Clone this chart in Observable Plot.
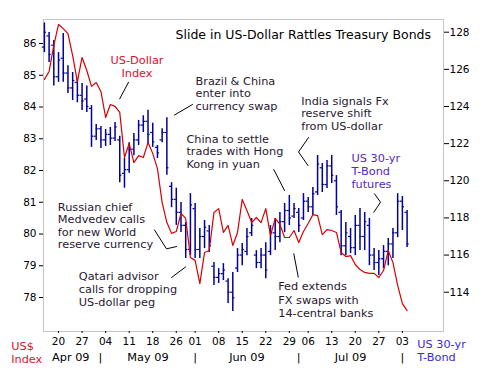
<!DOCTYPE html>
<html><head><meta charset="utf-8">
<script src="https://cdn.jsdelivr.net/npm/d3@7"></script>
<script src="https://cdn.jsdelivr.net/npm/@observablehq/plot@0.6"></script>
<style>
html,body{margin:0;padding:0;background:#fff;overflow:hidden;}
#chart svg{display:block;}
</style></head><body><div id="chart"></div>
<script>
// ---- Data (trading-day index 0 = 15 Apr 2009) ----
const bondOpen = [127.2,127.8,127.3,125.6,126.6,125.8,125.0,125.3,124.6,124.4,123.9,122.4,122.8,122.2,122.5,122.3,122.2,120.4,120.6,121.7,122.2,123.0,123.2,122.6,121.8,122.2,122.6,119.7,119.0,118.3,117.6,116.3,118.5,116.3,117.0,117.3,115.4,114.8,115.0,114.6,114.0,115.3,116.0,116.2,117.2,116.0,115.6,116.0,116.2,117.2,117.0,117.8,118.4,118.1,118.3,118.0,118.9,118.6,119.4,120.7,119.8,120.8,120.0,118.3,116.5,117.0,116.4,117.6,117.0,117.6,116.0,115.6,115.8,116.2,116.6,117.2,118.9,118.3];
const bondHigh = [128.5,127.98,127.55,126.9,127.93,126.2,125.83,125.5,125.24,125.1,124.05,123.03,122.92,122.76,122.87,123.14,122.4,121.2,122.05,122.55,123.25,123.5,123.8,123.1,121.9,122.8,123.4,119.9,119.6,118.83,117.75,119.31,118.78,117.43,117.86,117.59,115.6,115.27,115.54,114.73,115.06,116.35,116.62,117.43,117.97,116.24,116.35,116.67,117.59,117.97,118.29,118.78,119.21,118.78,118.51,119.31,119.1,119.64,121.36,120.93,121.09,121.36,120.28,118.4,117.75,117.43,118.13,118.51,118.29,117.97,116.35,116.24,116.51,116.89,117.43,119.31,119.15,118.4];
const bondLow = [126.9,126.37,125.1,125.3,125.3,124.7,124.32,124.2,123.78,123.67,121.8,122.17,121.74,121.85,121.9,122.11,119.9,119.6,120.4,121.35,121.9,122.6,122.0,121.8,121.2,122.05,120.3,118.55,117.6,117.21,115.81,115.97,115.81,115.81,116.35,116.14,114.36,114.47,114.63,113.39,112.96,115.06,115.43,115.97,117.0,115.27,115.27,114.73,115.97,116.24,116.67,117.21,117.59,117.97,117.21,117.86,118.29,118.13,119.21,119.37,119.58,119.85,118.13,115.97,115.97,116.08,115.97,116.24,116.24,115.43,115.17,114.9,115.27,115.43,115.81,116.94,117.32,116.41];
const bondClose = [128.0,126.8,125.6,126.5,125.8,125.0,125.4,124.6,124.3,124.0,122.4,122.8,122.2,122.5,122.3,122.9,120.3,120.6,121.7,122.2,123.0,123.2,122.5,122.1,121.5,122.6,120.7,119.0,118.3,117.6,116.3,118.7,116.3,117.0,117.5,116.5,114.8,115.0,115.2,114.0,113.7,116.0,116.3,117.0,117.6,115.6,116.0,115.2,117.2,117.0,117.8,118.4,118.0,118.5,117.6,118.9,118.6,119.3,120.9,119.8,120.8,120.3,118.6,116.5,117.2,116.4,117.6,117.0,117.8,116.0,115.6,115.8,116.2,116.6,117.2,118.9,118.6,116.6];
const usdIndex = [84.87,85.12,85.94,86.60,86.47,86.31,85.62,84.80,85.56,85.15,84.65,84.77,84.49,83.67,84.08,84.02,83.83,82.41,82.85,82.25,82.47,82.41,82.88,82.54,82.06,80.99,80.36,80.02,80.08,80.65,80.49,79.26,79.17,78.44,79.42,79.48,80.68,80.80,80.05,80.27,79.64,80.05,81.09,80.74,80.36,80.52,80.36,80.80,79.95,80.49,80.30,79.89,79.89,80.11,79.73,80.08,80.33,80.61,80.58,79.98,80.14,80.11,80.05,79.42,79.29,79.32,79.04,78.88,78.79,78.76,78.76,78.63,78.85,79.48,79.10,78.38,77.81,77.59];

const usdTicks = [78,79,80,81,82,83,84,85,86];
const bondTicks = [114,116,118,120,122,124,126,128];
const dayTickIdx = [3,8,13,18,23,28,32,37,42,47,52,56,61,66,71,76];
const dayTickLabels = ["20","27","04","11","18","26","01","08","15","22","29","06","13","20","27","03"];
const monthLabels = ["Apr 09","May 09","Jun 09","Jul 09"];
const monthCenters = [5.6,22,43,65];
const monthBreaks = [11.9,32,54,76];

// right axis (bond) is linked to left axis (US$) linearly
const bondToUsd = d3.scaleLinear().domain([114,128]).range([78.167,86.356]);

const title = "Slide in US-Dollar Rattles Treasury Bonds";
const notes = [
  {text:"US-Dollar\nIndex", x:19.66, y:85.654, anchor:"middle", color:"#d8102c", lh:1.15},
  {text:"Brazil & China\nenter into\ncurrency swap", x:32.08, y:84.983, anchor:"start", color:"#2a1830", lh:1.11},
  {text:"China to settle\ntrades with Hong\nKong in yuan", x:30.15, y:83.156, anchor:"start", color:"#2a1830", lh:1.11},
  {text:"India signals Fx\nreserve shift\nfrom US-dollar", x:54.52, y:84.353, anchor:"start", color:"#2a1830", lh:1.11},
  {text:"US 30-yr\nT-Bond\nfutures", x:65.2, y:82.551, anchor:"start", color:"#5526c8", lh:1.13},
  {text:"Russian chief\nMedvedev calls\nfor new World\nreserve currency", x:2.85, y:81.017, anchor:"start", color:"#2a1830", lh:1.11},
  {text:"Qatari advisor\ncalls for dropping\nUS-dollar peg", x:7.30, y:78.819, anchor:"start", color:"#2a1830", lh:1.11},
  {text:"Fed extends\nFX swaps with\n14-central banks", x:49.64, y:78.526, anchor:"start", color:"#2a1830", lh:1.18}
];
const leaders = [
  [[15.99,84.258],[17.86,84.781]],
  [[27.62,83.748],[31.44,84.079]],
  [[48.70,82.031],[50.98,81.370]],
  [[56.07,83.039],[53.95,82.583],[55.97,82.157]],
  [[70.08,81.266],[71.36,81.002],[69.94,80.687]],
  [[23.38,80.126],[25.92,79.534],[28.05,79.606]],
  [[26.99,78.630],[29.96,78.961]],
  [[52.95,79.376],[53.89,78.646]]
];

const bars = usdIndex.map((_, i) => ({i, o: bondOpen[i], h: bondHigh[i], l: bondLow[i], c: bondClose[i]}));
const usd = usdIndex.map((v, i) => ({i, v}));
const leaderPts = leaders.flatMap((pts, k) => pts.map(([x, y]) => ({k, x, y})));
const dayLabel = new Map(dayTickIdx.map((d, i) => [d, dayTickLabels[i]]));

const navy = "#00009c", red = "#d80000";
const annFont = 11.3;

const chart = Plot.plot({
  width: 485, height: 368,
  marginLeft: 43, marginRight: 42, marginTop: 19, marginBottom: 37,
  style: {fontFamily: "DejaVu Sans", fontSize: "10.5px", background: "#fff", color: "#000"},
  x: {domain: [-0.19, 84.73]},
  y: {domain: [76.93, 86.756]},
  marks: [
    Plot.frame({stroke: "#c4c4c4"}),
    Plot.axisY(usdTicks, {anchor: "left", tickSize: 4, tickPadding: 3, label: null, tickFormat: d => String(d)}),
    Plot.axisY(bondTicks.map(bondToUsd), {anchor: "right", tickSize: 5, tickPadding: 1, label: null, tickFormat: d => String(Math.round(bondToUsd.invert(d)))}),
    Plot.axisX(dayTickIdx, {tickSize: 2, tickPadding: 4, label: null, tickFormat: d => dayLabel.get(d)}),
    Plot.ruleX(bars, {x: "i", y1: d => bondToUsd(d.l), y2: d => bondToUsd(d.h), stroke: navy, strokeWidth: 1.5}),
    Plot.ruleY(bars, {x1: d => d.i - 0.45, x2: "i", y: d => bondToUsd(d.o), stroke: navy, strokeWidth: 1.2}),
    Plot.ruleY(bars, {x1: "i", x2: d => d.i + 0.45, y: d => bondToUsd(d.c), stroke: navy, strokeWidth: 1.2}),
    Plot.line(usd, {x: "i", y: "v", stroke: red, strokeWidth: 1.2}),
    Plot.line(leaderPts, {x: "x", y: "y", z: "k", stroke: "#000", strokeWidth: 1}),
    ...notes.map(n => Plot.text([n], {x: "x", y: "y", text: "text", textAnchor: n.anchor, lineAnchor: "top", lineHeight: n.lh, fill: n.color, fontSize: annFont})),
    Plot.text([title], {frameAnchor: "top-left", dx: 132, dy: 11.1, lineAnchor: "top", textAnchor: "start", fontSize: 12.5, fill: "#000"}),
    Plot.text(monthLabels, {x: (d, i) => monthCenters[i], frameAnchor: "bottom", dy: 21.7, lineAnchor: "top", textAnchor: "middle", fontSize: annFont, fill: "#000"}),
    Plot.text(monthBreaks, {x: d => d, text: () => "|", frameAnchor: "bottom", dy: 21.7, lineAnchor: "top", textAnchor: "middle", fontSize: annFont, fill: "#000"}),
    Plot.text(["US$\nIndex"], {frameAnchor: "bottom-left", dx: -32.3, dy: 9, lineAnchor: "top", textAnchor: "start", lineHeight: 1.15, fontSize: annFont, fill: "#e0102c"}),
    Plot.text(["US 30-yr\nT-Bond"], {frameAnchor: "bottom-right", dx: -26.3, dy: 7.5, lineAnchor: "top", textAnchor: "start", lineHeight: 1.13, fontSize: annFont, fill: "#3a2ad8"})
  ]
});
document.getElementById("chart").appendChild(chart);
</script></body></html>
